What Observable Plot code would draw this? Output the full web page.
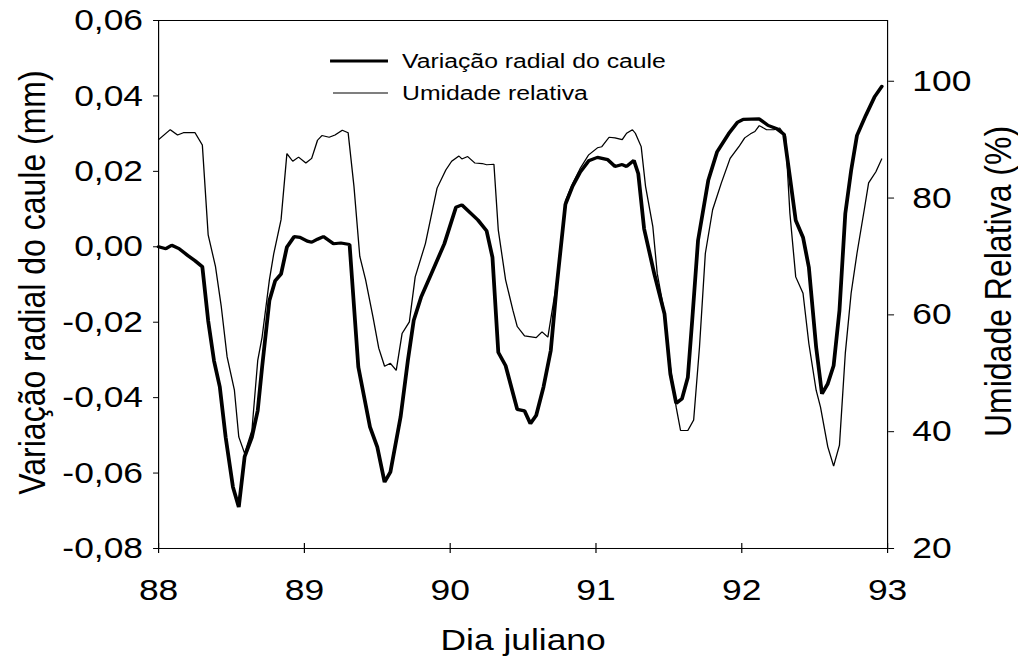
<!DOCTYPE html>
<html>
<head>
<meta charset="utf-8">
<script src="https://cdn.jsdelivr.net/npm/d3@7"></script>
<script src="https://cdn.jsdelivr.net/npm/@observablehq/plot@0.6"></script>
<style>
  html, body { margin: 0; padding: 0; background: #fff; }
  #chart { width: 1018px; height: 663px; overflow: hidden; }
</style>
</head>
<body>
<div id="chart"></div>
<script>
// Stem radial variation (mm), decimal Julian day
const diasCaule = [88.00,88.05,88.09,88.14,88.20,88.25,88.30,88.34,88.38,88.42,88.46,88.51,88.55,88.59,88.64,88.68,88.71,88.76,88.80,88.84,88.88,88.93,88.97,89.02,89.05,89.09,89.13,89.20,89.25,89.31,89.37,89.45,89.50,89.55,89.59,89.66,89.71,89.75,89.80,89.87,89.96,90.04,90.08,90.19,90.25,90.29,90.33,90.38,90.46,90.51,90.55,90.59,90.64,90.69,90.73,90.79,90.84,90.89,90.95,91.01,91.08,91.13,91.18,91.21,91.26,91.29,91.33,91.40,91.47,91.51,91.55,91.59,91.63,91.66,91.70,91.77,91.83,91.91,91.97,92.01,92.12,92.18,92.24,92.29,92.33,92.37,92.42,92.46,92.51,92.55,92.59,92.63,92.67,92.71,92.75,92.79,92.85,92.91,92.96];
const variacaoCaule = [0.0000,-0.0005,0.0004,-0.0005,-0.0023,-0.0037,-0.0053,-0.0196,-0.0302,-0.0372,-0.0505,-0.0637,-0.0690,-0.0557,-0.0505,-0.0434,-0.0319,-0.0143,-0.0090,-0.0072,-0.0001,0.0027,0.0025,0.0015,0.0012,0.0020,0.0027,0.0008,0.0010,0.0006,-0.0319,-0.0478,-0.0531,-0.0624,-0.0597,-0.0451,-0.0301,-0.0195,-0.0134,-0.0072,0.0008,0.0105,0.0111,0.0071,0.0042,-0.0028,-0.0280,-0.0315,-0.0431,-0.0435,-0.0469,-0.0447,-0.0372,-0.0275,-0.0107,0.0112,0.0161,0.0197,0.0228,0.0237,0.0231,0.0213,0.0218,0.0213,0.0229,0.0194,0.0048,-0.0072,-0.0178,-0.0337,-0.0415,-0.0403,-0.0346,-0.0195,0.0017,0.0176,0.0251,0.0300,0.0330,0.0338,0.0339,0.0322,0.0313,0.0298,0.0185,0.0070,0.0025,-0.0054,-0.0266,-0.0390,-0.0363,-0.0315,-0.0169,0.0088,0.0202,0.0295,0.0348,0.0397,0.0425];

// Relative humidity (%), decimal Julian day
const diasUmidade = [88.00,88.08,88.13,88.17,88.25,88.30,88.34,88.39,88.43,88.47,88.52,88.55,88.59,88.64,88.68,88.71,88.76,88.79,88.84,88.88,88.92,88.96,89.01,89.05,89.09,89.12,89.17,89.21,89.26,89.30,89.34,89.38,89.42,89.47,89.51,89.55,89.59,89.63,89.67,89.72,89.76,89.83,89.91,89.97,90.01,90.06,90.08,90.12,90.17,90.22,90.25,90.30,90.33,90.38,90.43,90.46,90.51,90.59,90.63,90.67,90.73,90.79,90.84,90.89,90.95,91.01,91.04,91.09,91.13,91.18,91.21,91.25,91.27,91.31,91.34,91.39,91.42,91.47,91.51,91.55,91.58,91.63,91.67,91.71,91.75,91.80,91.86,91.92,91.98,92.02,92.06,92.09,92.12,92.17,92.22,92.26,92.30,92.33,92.37,92.42,92.46,92.51,92.54,92.59,92.63,92.67,92.71,92.75,92.79,92.84,92.87,92.92,92.96];
const umidade = [90.0,91.7,90.8,91.2,91.2,89.1,73.7,68.3,61.4,52.8,47.1,39.1,36.3,40.2,52.2,56.2,66.0,70.5,76.3,87.6,86.3,87.0,86.0,86.8,89.9,90.7,90.4,90.8,91.6,91.2,82.0,70.0,66.0,59.7,54.3,51.2,51.7,50.5,56.8,58.8,66.5,72.2,81.7,84.8,86.3,87.2,86.7,87.1,86.0,85.9,85.7,85.8,74.5,66.0,60.8,58.0,56.4,56.1,57.1,56.2,65.5,79.5,82.5,85.0,87.4,88.6,88.8,90.4,90.3,90.0,91.1,91.7,91.1,88.8,82.0,75.1,67.1,60.3,51.1,44.2,40.2,40.2,42.0,54.5,70.5,78.0,82.6,86.8,88.8,90.3,91.0,91.4,92.4,91.7,91.7,92.0,90.6,77.4,66.5,63.7,55.1,47.1,44.2,37.4,34.1,37.7,53.4,63.7,70.5,78.0,82.6,84.5,86.7];

const diasTicks = [88, 89, 90, 91, 92, 93];
const mmTicks = [-0.08, -0.06, -0.04, -0.02, 0, 0.02, 0.04, 0.06];
const urTicks = [20, 40, 60, 80, 100];
const serieNomes = ["Variação radial do caule", "Umidade relativa"];

// Page size and horizontal stretch of the whole figure
const W = 1018, H = 663, SX = 1.18;
const w = W / SX;
const mL = 158 / SX, mR = (W - 887) / SX, mT = 20, mB = 115;

// Both series share one y scale: humidity is mapped onto the mm domain
const mmDomain = [-0.08, 0.06];
const urDomain = [20, 110.4];
const k = (mmDomain[1] - mmDomain[0]) / (urDomain[1] - urDomain[0]);
const urToMm = u => mmDomain[0] + (u - urDomain[0]) * k;
const mmToUr = v => urDomain[0] + (v - mmDomain[0]) / k;

const caule = diasCaule.map((d, i) => ({dia: d, v: variacaoCaule[i]}));
const ur = diasUmidade.map((d, i) => ({dia: d, v: urToMm(umidade[i])}));
const fmtMm = d => d.toFixed(2).replace(".", ",");

const font = "'Liberation Sans', Arial, Helvetica, sans-serif";

const chart = Plot.plot({
  width: w,
  height: H,
  marginLeft: mL,
  marginRight: mR,
  marginTop: mT,
  marginBottom: mB,
  style: {fontFamily: font, fontSize: "30px", background: "white", color: "black"},
  x: {domain: [88, 93]},
  y: {domain: mmDomain},
  marks: [
    Plot.frame({stroke: "black", strokeWidth: 1}),
    Plot.axisX(diasTicks, {tickSize: 5, tickPadding: 25, tickFormat: d => String(d), label: null}),
    Plot.axisX(diasTicks, {tickSize: 5, dy: -5, tickFormat: () => "", label: null}),
    Plot.axisY(mmTicks, {anchor: "left", tickSize: 4.2, tickPadding: 9, tickFormat: fmtMm, label: null}),
    Plot.axisY(urTicks.map(urToMm), {anchor: "right", tickSize: 5, tickPadding: 16, tickFormat: d => String(Math.round(mmToUr(d))), label: null}),
    Plot.line(ur, {x: "dia", y: "v", stroke: "black", strokeWidth: 1.1, strokeLinejoin: "miter"}),
    Plot.line(caule, {x: "dia", y: "v", stroke: "black", strokeWidth: 3.2, strokeLinejoin: "miter"}),
    Plot.text(["Variação radial do caule (mm)"], {text: d => d, frameAnchor: "left", textAnchor: "middle", lineAnchor: "middle", rotate: -90, dx: 27 - mL, dy: -2, fontSize: 32}),
    Plot.text(["Umidade Relativa (%)"], {text: d => d, frameAnchor: "right", textAnchor: "middle", lineAnchor: "middle", rotate: -90, dx: 94, dy: -3, fontSize: 32}),
    Plot.text(["Dia juliano"], {text: d => d, frameAnchor: "bottom", textAnchor: "middle", dy: 102, fontSize: 30})
  ]
});

// Legend inside the plot area, near the top
const svg = d3.select(chart);
const leg = svg.append("g")
  .attr("font-family", font)
  .attr("font-size", 21)
  .attr("fill", "black")
  .attr("text-anchor", "start");
const legY = [61, 93];
serieNomes.forEach((nome, i) => {
  leg.append("line")
    .attr("x1", i === 0 ? 279.7 : 282.2).attr("x2", 328.8)
    .attr("y1", legY[i]).attr("y2", legY[i])
    .attr("stroke", "black").attr("stroke-width", i === 0 ? 3.2 : 1.1);
  leg.append("text").attr("x", 340.7).attr("y", legY[i]).attr("dy", "0.35em").text(nome);
});

chart.style.transformOrigin = "0 0";
chart.style.transform = `scaleX(${SX})`;
chart.style.maxWidth = "none";
document.getElementById("chart").appendChild(chart);
</script>
</body>
</html>
